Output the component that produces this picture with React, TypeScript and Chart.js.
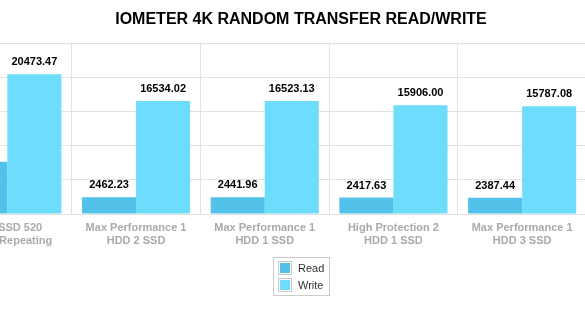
import { useEffect, useRef } from "react";
import { Chart, registerables } from "chart.js";

Chart.register(...registerables);

const chartTitle = "IOMETER 4K RANDOM TRANSFER READ/WRITE";
const categories: string[][] = [
  ["Intel SSD 520", "Highly Repeating"],
  ["Max Performance 1", "HDD 2 SSD"],
  ["Max Performance 1", "HDD 1 SSD"],
  ["High Protection 2", "HDD 1 SSD"],
  ["Max Performance 1", "HDD 3 SSD"],
];
const seriesNames = ["Read", "Write"];
const readValues = [7650.0, 2462.23, 2441.96, 2417.63, 2387.44];
const writeValues = [20473.47, 16534.02, 16523.13, 15906.0, 15787.08];
const yMin = 0;
const yMax = 25000;
const yStep = 5000;

const FONT = '"Liberation Sans", Arial, Helvetica, sans-serif';
const READ_COLOR = "#52c2ea";
const WRITE_COLOR = "#6ddcfd";
const GRID_COLOR = "#e2e2e2";

const valueLabelsPlugin = {
  id: "valueLabels",
  afterDatasetsDraw(chart: any) {
    const ctx = chart.ctx;
    ctx.save();
    ctx.font = `bold 11px ${FONT}`;
    ctx.fillStyle = "#000";
    ctx.textAlign = "center";
    ctx.textBaseline = "middle";
    chart.data.datasets.forEach((ds: any, i: number) => {
      const meta = chart.getDatasetMeta(i);
      meta.data.forEach((el: any, j: number) => {
        ctx.fillText(Number(ds.data[j]).toFixed(2), el.x, el.y - 12);
      });
    });
    ctx.restore();
  },
};

const boxLegendPlugin = {
  id: "boxLegend",
  afterDraw(chart: any) {
    const ctx = chart.ctx;
    const w = 56;
    const h = 38;
    const left = Math.round(chart.width / 2 - 28);
    const top = Math.round(chart.chartArea.bottom + 43);
    ctx.save();
    ctx.strokeStyle = "#cccccc";
    ctx.lineWidth = 1;
    ctx.strokeRect(left + 0.5, top + 0.5, w, h);
    ctx.font = `11px ${FONT}`;
    ctx.textAlign = "left";
    ctx.textBaseline = "middle";
    chart.data.datasets.forEach((ds: any, i: number) => {
      const sx = left + 5;
      const sy = top + 4 + i * 17;
      ctx.strokeStyle = "#cccccc";
      ctx.strokeRect(sx + 0.5, sy + 0.5, 13, 13);
      ctx.fillStyle = ds.backgroundColor;
      ctx.fillRect(sx + 2, sy + 2, 10, 10);
      ctx.fillStyle = "#333";
      ctx.fillText(ds.label, sx + 20, sy + 7.5);
    });
    ctx.restore();
  },
};

export default function App() {
  const ref = useRef<HTMLCanvasElement | null>(null);

  useEffect(() => {
    if (!ref.current) return;
    const chart = new Chart(ref.current, {
      type: "bar",
      data: {
        labels: categories,
        datasets: [
          {
            label: seriesNames[0],
            data: readValues,
            backgroundColor: READ_COLOR,
            categoryPercentage: 0.84,
            barPercentage: 1.0,
          },
          {
            label: seriesNames[1],
            data: writeValues,
            backgroundColor: WRITE_COLOR,
            categoryPercentage: 0.84,
            barPercentage: 1.0,
          },
        ],
      },
      options: {
        responsive: false,
        animation: false,
        layout: { padding: { left: 0, right: 0, top: 0, bottom: 63.6 } },
        plugins: {
          legend: { display: false },
          tooltip: { enabled: false },
          title: {
            display: true,
            text: chartTitle,
            color: "#000",
            font: { family: FONT, size: 16, weight: "bold" },
            padding: { top: 10, bottom: 14 },
          },
        },
        scales: {
          x: {
            offset: true,
            grid: { display: true, offset: true, color: GRID_COLOR, drawTicks: false },
            border: { display: true, color: GRID_COLOR },
            ticks: {
              color: "#aaaaaa",
              font: { family: FONT, size: 11, weight: "bold" },
              padding: 7,
              maxRotation: 0,
              autoSkip: false,
            },
          },
          y: {
            position: "right",
            min: yMin,
            max: yMax,
            ticks: { display: false, stepSize: yStep },
            grid: { color: GRID_COLOR, drawTicks: false },
            border: { display: false },
            afterFit: (scale: any) => {
              scale.width = 72.5;
            },
          },
        },
      },
      plugins: [valueLabelsPlugin, boxLegendPlugin],
    });
    return () => chart.destroy();
  }, []);

  return (
    <div
      style={{
        position: "fixed",
        left: 0,
        top: 0,
        width: 585,
        height: 318,
        overflow: "hidden",
        background: "#fff",
      }}
    >
      <canvas
        ref={ref}
        width={716}
        height={318}
        style={{ position: "absolute", left: -57, top: 0, width: 716, height: 318 }}
      />
    </div>
  );
}
